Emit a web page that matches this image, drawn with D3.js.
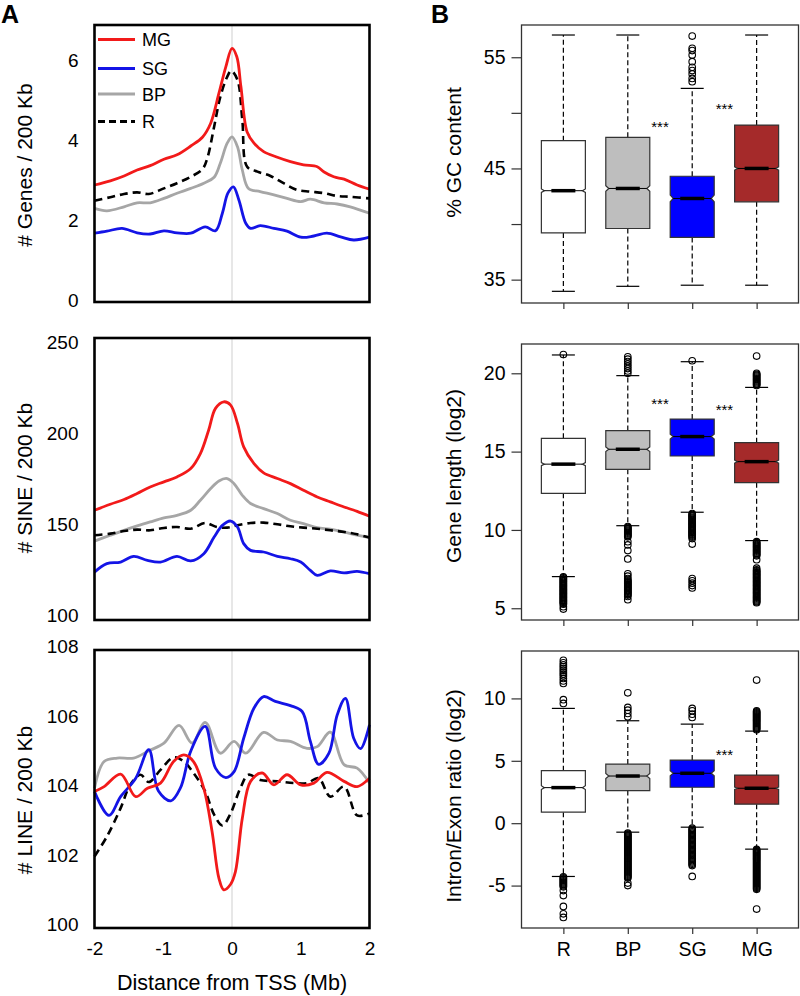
<!DOCTYPE html>
<html><head><meta charset="utf-8">
<script src="https://cdn.jsdelivr.net/npm/d3@7"></script>
<style>body{margin:0;background:#fff} text{font-family:Arial,"Liberation Sans",sans-serif;fill:#000}</style>
</head><body><svg id="c" width="800" height="996"></svg>
<script>
// ---------- Panel A data: [distance from TSS (Mb), value] ----------
const genesMG = [[-2.00,2.875],[-1.77,2.98],[-1.57,3.10],[-1.38,3.25],[-1.19,3.36],[-0.99,3.52],[-0.80,3.63],[-0.60,3.85],[-0.43,4.07],[-0.31,4.42],[-0.19,5.17],[-0.09,5.83],[0.00,6.29],[0.07,6.08],[0.13,5.33],[0.22,4.20],[0.32,3.92],[0.46,3.71],[0.66,3.57],[0.85,3.46],[1.04,3.38],[1.24,3.33],[1.34,3.20],[1.48,3.08],[1.63,3.02],[1.82,2.875],[2.00,2.77]];
const genesSG = [[-2.00,1.67],[-1.82,1.72],[-1.60,1.79],[-1.38,1.68],[-1.19,1.65],[-0.99,1.73],[-0.80,1.68],[-0.60,1.67],[-0.39,1.83],[-0.24,1.73],[-0.14,2.17],[-0.06,2.67],[0.02,2.83],[0.10,2.50],[0.20,1.92],[0.27,1.79],[0.41,1.86],[0.61,1.79],[0.80,1.72],[1.00,1.57],[1.19,1.60],[1.38,1.67],[1.58,1.58],[1.77,1.50],[2.00,1.57]];
const genesBP = [[-2.00,2.29],[-1.82,2.23],[-1.57,2.33],[-1.38,2.43],[-1.19,2.43],[-0.99,2.54],[-0.80,2.67],[-0.60,2.79],[-0.41,2.92],[-0.26,3.07],[-0.17,3.42],[-0.07,3.92],[0.00,4.08],[0.08,3.83],[0.15,3.25],[0.24,2.79],[0.41,2.71],[0.61,2.63],[0.80,2.54],[1.00,2.46],[1.14,2.52],[1.34,2.43],[1.53,2.40],[1.72,2.33],[2.00,2.17]];
const genesR  = [[-2.00,2.48],[-1.77,2.57],[-1.57,2.65],[-1.38,2.69],[-1.21,2.65],[-0.99,2.79],[-0.80,2.92],[-0.60,3.08],[-0.43,3.27],[-0.36,3.54],[-0.26,4.33],[-0.17,5.08],[-0.07,5.58],[-0.01,5.73],[0.08,5.50],[0.15,4.50],[0.22,3.33],[0.37,3.21],[0.56,3.10],[0.75,2.92],[0.95,2.75],[1.14,2.71],[1.34,2.67],[1.53,2.60],[1.72,2.58],[2.00,2.54]];

const sineMG = [[-2.00,157.7],[-1.77,161.0],[-1.57,163.6],[-1.38,166.9],[-1.19,170.5],[-0.99,173.3],[-0.80,176.0],[-0.60,180.6],[-0.46,188.8],[-0.34,201.6],[-0.24,213.6],[-0.12,217.2],[-0.02,215.4],[0.08,205.3],[0.17,192.5],[0.32,183.3],[0.46,178.2],[0.66,175.1],[0.85,172.3],[1.04,168.7],[1.24,165.0],[1.43,162.3],[1.63,159.5],[1.82,157.1],[2.00,154.4]];
const sineSG = [[-2.00,123.8],[-1.82,128.4],[-1.62,129.3],[-1.43,132.4],[-1.23,130.2],[-1.04,129.3],[-0.80,132.4],[-0.60,129.9],[-0.41,133.9],[-0.26,143.0],[-0.14,149.4],[-0.02,151.8],[0.08,148.5],[0.17,139.4],[0.27,135.7],[0.46,134.8],[0.66,132.4],[0.85,131.1],[1.00,129.3],[1.14,124.7],[1.24,122.0],[1.43,124.4],[1.63,123.3],[1.82,124.2],[2.00,122.9]];
const sineBP = [[-2.00,140.8],[-1.77,144.0],[-1.57,146.7],[-1.38,149.1],[-1.19,151.3],[-0.99,153.5],[-0.80,154.9],[-0.60,157.7],[-0.46,163.2],[-0.31,169.6],[-0.19,173.8],[-0.07,175.1],[0.03,172.3],[0.15,165.9],[0.27,161.4],[0.46,158.6],[0.66,155.9],[0.85,152.2],[1.04,150.4],[1.24,148.2],[1.43,147.3],[1.63,145.8],[1.82,144.0],[2.00,142.7]];
const sineR  = [[-2.00,144.0],[-1.77,144.9],[-1.57,146.3],[-1.38,147.1],[-1.19,146.7],[-0.99,148.0],[-0.80,148.5],[-0.60,147.6],[-0.39,150.7],[-0.22,148.5],[-0.07,148.2],[0.08,149.5],[0.27,150.7],[0.46,150.9],[0.66,150.0],[0.85,148.9],[1.04,148.2],[1.24,147.6],[1.43,146.7],[1.63,145.8],[1.82,144.5],[2.00,142.7]];

const lineMG = [[-2.00,103.84],[-1.86,103.98],[-1.62,104.34],[-1.40,103.69],[-1.23,103.93],[-1.04,104.08],[-0.85,104.70],[-0.70,104.89],[-0.56,104.70],[-0.41,103.93],[-0.29,102.69],[-0.19,101.34],[-0.12,101.01],[-0.02,101.17],[0.05,101.53],[0.15,103.07],[0.27,104.13],[0.44,104.37],[0.61,104.03],[0.80,104.32],[1.00,104.03],[1.19,104.08],[1.38,104.39],[1.63,104.13],[1.82,103.98],[2.00,104.22]];
const lineSG = [[-2.00,103.84],[-1.79,103.15],[-1.62,103.69],[-1.40,104.22],[-1.21,105.04],[-1.07,103.85],[-0.89,103.57],[-0.75,103.94],[-0.60,105.00],[-0.39,105.71],[-0.24,104.51],[-0.09,104.24],[0.03,104.41],[0.17,105.37],[0.32,106.24],[0.46,106.57],[0.63,106.43],[0.85,106.31],[1.02,106.14],[1.14,105.28],[1.26,104.62],[1.41,104.94],[1.53,106.04],[1.65,106.52],[1.77,105.37],[1.87,105.07],[2.00,105.76]];
const lineBP = [[-2.00,103.93],[-1.86,104.70],[-1.67,104.80],[-1.43,104.80],[-1.21,105.01],[-0.99,105.23],[-0.77,105.74],[-0.58,105.23],[-0.39,105.83],[-0.17,104.94],[0.03,105.28],[0.20,104.94],[0.46,105.54],[0.66,105.32],[0.85,105.28],[1.09,105.08],[1.24,105.13],[1.43,105.55],[1.63,104.61],[1.82,104.51],[2.00,104.08]];
const lineR  = [[-2.00,101.97],[-1.82,102.54],[-1.62,103.36],[-1.48,104.03],[-1.33,104.32],[-1.21,104.11],[-1.04,104.46],[-0.85,104.82],[-0.70,104.70],[-0.56,104.37],[-0.39,103.84],[-0.26,103.17],[-0.14,102.86],[-0.02,103.21],[0.12,103.93],[0.24,104.32],[0.41,104.17],[0.66,104.13],[0.90,104.08],[1.09,104.08],[1.26,104.22],[1.43,103.69],[1.63,103.98],[1.82,103.15],[2.00,103.21]];

const distTicks = [-2,-1,0,1,2];
const genesTicks = [0,2,4,6];
const sineTicks = [100,150,200,250];
const lineTicks = [100,102,104,106,108];
const legendLabels = ["MG","SG","BP","R"];

// ---------- Panel B data ----------
const groups = ["R","BP","SG","MG"];
// [lower whisker, Q1, median, Q3, upper whisker]
const gcStats    = [[33.95,39.2,43.0,47.5,57.0],[34.4,39.6,43.2,47.8,57.0],[34.5,38.8,42.3,44.3,52.2],[34.5,42.0,45.0,48.9,57.0]];
const lenStats   = [[7.02,12.34,14.2,15.85,21.17],[10.27,13.87,15.15,16.34,19.85],[11.13,14.72,15.96,17.08,20.74],[9.32,13.02,14.36,15.57,19.1]];
const ratioStats = [[-4.27,0.88,2.85,4.21,9.2],[-0.72,2.61,3.78,4.74,8.21],[-0.32,2.88,4.0,5.06,7.94],[-2.08,1.52,2.8,3.86,7.38]];
// notch half-height (data units)
const gcNotch = [0.15,0.25,0.3,0.15];
const lenNotch = [0.1,0.15,0.15,0.1];
const ratioNotch = [0.15,0.2,0.2,0.1];

const gcOut = [[],[],[56.9,55.8,55.6,55.2,54.6,54.1,53.8,53.5,53.1,52.8],[]];
const lenOut = [
  [21.2,7.0,6.94,6.88,6.82,6.76,6.70,6.64,6.58,6.52,6.46,6.40,6.34,6.28,6.22,6.16,6.10,6.04,5.98,5.92,5.86,5.80,5.74,5.68,5.62,5.56,5.50,5.44,5.38,5.32,5.26,5.1,4.95],
  [21.05,20.9,20.75,20.6,20.45,20.3,20.15,20.0,10.22,10.16,10.10,10.04,9.98,9.92,9.86,9.80,9.74,9.68,9.62,9.56,9.25,9.04,8.68,8.15,7.2,7.05,6.9,6.8,6.74,6.68,6.62,6.56,6.50,6.44,6.38,6.32,6.26,6.20,6.14,6.08,6.02,5.96,5.90,5.84,5.75,5.55],
  [20.8,11.05,10.99,10.93,10.87,10.81,10.75,10.69,10.63,10.57,10.51,10.45,10.39,10.33,10.27,10.21,10.15,10.09,10.03,9.97,9.91,9.85,9.79,9.73,9.67,9.61,9.55,9.45,9.1,6.9,6.75,6.6,6.45,6.3],
  [21.1,20.0,19.94,19.88,19.82,19.76,19.70,19.64,19.58,19.52,19.46,19.40,19.34,19.28,19.22,9.25,9.19,9.13,9.07,9.01,8.95,8.89,8.83,8.77,8.71,8.65,8.59,8.53,8.47,8.41,8.35,8.1,7.56,7.45,7.39,7.33,7.27,7.21,7.15,7.09,7.03,6.97,6.91,6.85,6.79,6.73,6.67,6.61,6.55,6.49,6.43,6.37,6.31,6.25,6.19,6.13,6.07,6.01,5.95,5.89,5.83,5.77,5.71,5.65,5.59,5.53,5.47,5.41,5.35]
];
const ratioOut = [
  [13.05,12.85,12.7,12.55,12.4,12.25,12.1,11.95,11.8,11.6,11.4,11.2,9.9,9.6,-4.3,-4.38,-4.46,-4.54,-4.62,-4.70,-4.78,-4.86,-4.94,-5.02,-5.1,-5.4,-5.8,-6.67,-7.26,-7.55],
  [10.45,9.28,9.06,8.8,8.53,-0.80,-0.88,-0.96,-1.04,-1.12,-1.20,-1.28,-1.36,-1.44,-1.52,-1.60,-1.68,-1.76,-1.84,-1.92,-2.00,-2.08,-2.16,-2.24,-2.32,-2.40,-2.48,-2.56,-2.64,-2.72,-2.80,-2.88,-2.96,-3.04,-3.12,-3.20,-3.28,-3.36,-3.44,-3.52,-3.60,-3.68,-3.76,-3.84,-3.92,-4.00,-4.08,-4.16,-4.24,-4.32,-4.40,-4.8,-5.0],
  [9.2,9.01,8.74,8.48,-0.4,-0.5,-0.6,-0.7,-0.8,-0.9,-1.0,-1.1,-1.2,-1.3,-1.4,-1.5,-1.6,-1.7,-1.8,-1.9,-2.0,-2.1,-2.2,-2.3,-2.4,-2.5,-2.6,-2.7,-2.8,-2.9,-3.0,-3.1,-3.2,-3.3,-3.4,-4.27],
  [11.47,9.00,8.92,8.84,8.76,8.68,8.60,8.52,8.44,8.36,8.28,8.20,8.12,8.04,7.96,7.88,7.80,7.72,7.64,7.56,7.48,-2.10,-2.18,-2.26,-2.34,-2.42,-2.50,-2.58,-2.66,-2.74,-2.82,-2.90,-2.98,-3.06,-3.14,-3.22,-3.30,-3.38,-3.46,-3.54,-3.62,-3.70,-3.78,-3.86,-3.94,-4.02,-4.10,-4.18,-4.26,-4.34,-4.42,-4.50,-4.58,-4.66,-4.74,-4.82,-4.90,-4.98,-5.06,-5.14,-5.22,-5.30,-6.88]
];
const gcTicks = [35,40,45,50,55];
const gcTickLabels = ["35","","45","","55"];
const lenTicks = [5,10,15,20];
const ratioTicks = [-5,0,5,10];
// significance marks: [position between groups (index), value]
const gcSig = [[1.5,48.9],[2.5,50.5]];
const lenSig = [[1.5,18.17],[2.5,17.8]];
const ratioSig = [[2.5,5.6]];

// ---------- drawing ----------
const svg = d3.select("#c");
const FF = "Arial, 'Liberation Sans', sans-serif";
const lineColors = {MG:"#F21A1A", SG:"#1414E6", BP:"#A6A6A6", R:"#000"};
const boxFill = {R:"#FFFFFF", BP:"#BEBEBE", SG:"#0000FF", MG:"#A52A2A"};

const xL = d3.scaleLinear().domain([-2,2]).range([94.5,369.5]);
const leftPanels = [
  {top:25, bottom:302, domain:[-0.05,6.875], ticks:genesTicks, title:"# Genes / 200 Kb", ty:165,
   series:{MG:genesMG,SG:genesSG,BP:genesBP,R:genesR}},
  {top:338, bottom:620, domain:[97.5,252.2], ticks:sineTicks, title:"# SINE / 200 Kb", ty:478,
   series:{MG:sineMG,SG:sineSG,BP:sineBP,R:sineR}},
  {top:650, bottom:928, domain:[99.91,107.91], ticks:lineTicks, title:"# LINE / 200 Kb", ty:800,
   series:{MG:lineMG,SG:lineSG,BP:lineBP,R:lineR}}
];

leftPanels.forEach((p,i)=>{
  const y = d3.scaleLinear().domain(p.domain).range([p.bottom,p.top]);
  const g = svg.append("g");
  g.append("line").attr("x1",xL(0)).attr("x2",xL(0)).attr("y1",p.top).attr("y2",p.bottom)
    .attr("stroke","#CFCFCF").attr("stroke-width",1);
  const ln = d3.line().x(d=>xL(d[0])).y(d=>y(d[1])).curve(d3.curveCatmullRom.alpha(0.5));
  ["BP","R","SG","MG"].forEach(k=>{
    g.append("path").attr("d",ln(p.series[k])).attr("fill","none")
      .attr("stroke",lineColors[k]).attr("stroke-width",k==="R"?2.6:2.8)
      .attr("stroke-dasharray",k==="R"?"8,5":null).attr("stroke-linejoin","round");
  });
  g.append("rect").attr("x",xL(-2)).attr("y",p.top).attr("width",xL(2)-xL(-2)).attr("height",p.bottom-p.top)
    .attr("fill","none").attr("stroke","#000").attr("stroke-width",2.6);
  const ax = g.append("g").attr("transform",`translate(${xL(-2)},0)`)
    .call(d3.axisLeft(y).tickValues(p.ticks).tickSize(0).tickPadding(16).tickFormat(d3.format("d")));
  ax.select(".domain").remove();
  ax.selectAll("text").style("font-size","19px").style("font-family",FF).attr("fill","#000");
  g.append("text").attr("transform",`translate(32,${p.ty}) rotate(-90)`).attr("text-anchor","middle")
    .style("font-size","21px").text(p.title);
  if(i===2){
    const bx = g.append("g").attr("transform",`translate(0,${p.bottom})`)
      .call(d3.axisBottom(xL).tickValues(distTicks).tickSize(0).tickPadding(14).tickFormat(d3.format("d")));
    bx.select(".domain").remove();
    bx.selectAll("text").style("font-size","19px").style("font-family",FF).attr("fill","#000")
      .text(d=>d<0?"-"+Math.abs(d):d);
    g.append("text").attr("x",xL(0)).attr("y",990).attr("text-anchor","middle").style("font-size","21.5px")
      .text("Distance from TSS (Mb)");
  }
  if(i===0){
    const lg = g.append("g");
    legendLabels.forEach((k,j)=>{
      const ly = [39.5,68.5,94,121.5][j];
      lg.append("line").attr("x1",98).attr("x2",135).attr("y1",ly).attr("y2",ly)
        .attr("stroke",lineColors[k]).attr("stroke-width",2.8).attr("stroke-dasharray",k==="R"?"7,4":null);
      lg.append("text").attr("x",142).attr("y",ly+6.5).style("font-size","18px").text(k);
    });
  }
});

svg.append("text").attr("x",1).attr("y",23).style("font-size","25px").style("font-weight","bold").text("A");
svg.append("text").attr("x",431).attr("y",23).style("font-size","25px").style("font-weight","bold").text("B");

// right panels
const xR = d3.scalePoint().domain(groups).range([521.5,798.5]).padding(0.65);
const step = xR.step();
const rightPanels = [
  {top:25, bottom:303, domain:[32.9,57.9], stats:gcStats, notch:gcNotch, out:gcOut, ticks:gcTicks, labels:gcTickLabels, title:"% GC content", ty:152.5, sig:gcSig},
  {top:344, bottom:620, domain:[4.25,21.87], stats:lenStats, notch:lenNotch, out:lenOut, ticks:lenTicks, labels:null, title:"Gene length (log2)", ty:476, sig:lenSig},
  {top:651, bottom:928, domain:[-8.4,13.8], stats:ratioStats, notch:ratioNotch, out:ratioOut, ticks:ratioTicks, labels:null, title:"Intron/Exon ratio (log2)", ty:796, sig:ratioSig}
];
const bw = 22, cap = 11.5, ind = 3;
rightPanels.forEach((p,i)=>{
  const y = d3.scaleLinear().domain(p.domain).range([p.bottom,p.top]);
  const g = svg.append("g");
  groups.forEach((gr,j)=>{
    const s = p.stats[j], cx = xR(gr);
    [[s[3],s[4]],[s[1],s[0]]].forEach(([a,b])=>{
      g.append("line").attr("x1",cx).attr("x2",cx).attr("y1",y(a)).attr("y2",y(b))
        .attr("stroke","#000").attr("stroke-width",1.2).attr("stroke-dasharray","5,3");
      g.append("line").attr("x1",cx-cap).attr("x2",cx+cap).attr("y1",y(b)).attr("y2",y(b))
        .attr("stroke","#000").attr("stroke-width",1.2);
    });
    g.selectAll(null).data(p.out[j]).enter().append("circle")
      .attr("cx",cx).attr("cy",d=>y(d)).attr("r",3.3).attr("fill","none").attr("stroke","#000").attr("stroke-width",1.1);
    const x0 = cx-bw, x1 = cx+bw, yq1 = y(s[1]), yq3 = y(s[3]), ym = y(s[2]);
    const nt = y(s[2]+p.notch[j]), nb = y(s[2]-p.notch[j]);
    const path = `M${x0},${yq3}L${x1},${yq3}L${x1},${nt}L${x1-ind},${ym}L${x1},${nb}L${x1},${yq1}L${x0},${yq1}L${x0},${nb}L${x0+ind},${ym}L${x0},${nt}Z`;
    g.append("path").attr("d",path).attr("fill",boxFill[gr]).attr("stroke","#333").attr("stroke-width",1.2);
    g.append("line").attr("x1",x0+ind).attr("x2",x1-ind).attr("y1",ym).attr("y2",ym).attr("stroke","#000").attr("stroke-width",1);
    g.append("line").attr("x1",cx-12).attr("x2",cx+12).attr("y1",ym).attr("y2",ym).attr("stroke","#000").attr("stroke-width",3.5);
  });
  p.sig.forEach(([pos,v])=>{
    const sx = xR(groups[0]) + pos*step;
    g.append("text").attr("x",sx).attr("y",y(v)+7).attr("text-anchor","middle").style("font-size","15px").text("***");
  });
  g.append("rect").attr("x",521.5).attr("y",p.top).attr("width",277).attr("height",p.bottom-p.top)
    .attr("fill","none").attr("stroke","#333").attr("stroke-width",1.3);
  const ax = g.append("g").attr("transform","translate(521.5,0)")
    .call(d3.axisLeft(y).tickValues(p.ticks).tickSize(10).tickPadding(6));
  ax.select(".domain").remove();
  ax.selectAll("line").attr("stroke","#333").attr("stroke-width",1.2);
  ax.selectAll("text").style("font-size","19.5px").style("font-family",FF).attr("fill","#000")
    .text((d,k)=>p.labels?p.labels[k]:(d<0?"-"+Math.abs(d):String(d)));
  const bx = g.append("g").attr("transform",`translate(0,${p.bottom})`)
    .call(d3.axisBottom(xR).tickSize(6).tickPadding(8));
  bx.select(".domain").remove();
  bx.selectAll("line").attr("stroke","#333").attr("stroke-width",1.2);
  bx.selectAll("text").style("font-size","19.5px").style("font-family",FF).attr("fill","#000")
    .style("display", i===2?null:"none");
  g.append("text").attr("transform",`translate(461,${p.ty}) rotate(-90)`).attr("text-anchor","middle")
    .style("font-size","21px").text(p.title);
});
</script></body></html>
